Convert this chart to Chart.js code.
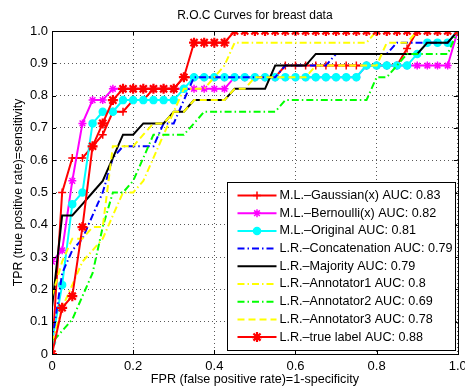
<!DOCTYPE html>
<html>
<head>
<meta charset="utf-8">
<script src="https://cdn.jsdelivr.net/npm/chart.js@4.4.1/dist/chart.umd.min.js"></script>
<style>
  html, body { margin: 0; padding: 0; background: #fff; }
  #wrap { width: 465px; height: 387px; }
</style>
</head>
<body>
<div id="wrap"><canvas id="roc-chart" width="465" height="387"></canvas></div>
<script>
// FPR steps shared by the curves that carry markers (40 negatives)
var fprGrid = [0, 0.025, 0.05, 0.075, 0.1, 0.125, 0.15, 0.175, 0.2, 0.225,
               0.25, 0.275, 0.3, 0.325, 0.35, 0.375, 0.4, 0.425, 0.45, 0.475,
               0.5, 0.525, 0.55, 0.575, 0.6, 0.625, 0.65, 0.675, 0.7, 0.725,
               0.75, 0.775, 0.8, 0.825, 0.85, 0.875, 0.9, 0.925, 0.95, 0.975, 1];

var gaussTpr = [0, 0.5, 0.607, 0.607, 0.643, 0.679, 0.75, 0.75, 0.786, 0.786,
                0.821, 0.821, 0.821, 0.857, 0.857, 0.857, 0.857, 0.857, 0.857, 0.857,
                0.857, 0.857, 0.857, 0.893, 0.893, 0.893, 0.893, 0.893, 0.893, 0.893,
                0.893, 0.893, 0.893, 0.893, 0.893, 0.946, 1, 1, 1, 1, 1];

var bernTpr = [0.286, 0.321, 0.536, 0.714, 0.786, 0.786, 0.821, 0.821, 0.821, 0.821,
               0.821, 0.821, 0.821, 0.821, 0.821, 0.821, 0.821, 0.821, 0.857, 0.857,
               0.857, 0.857, 0.857, 0.857, 0.857, 0.857, 0.857, 0.857, 0.857, 0.857,
               0.857, 0.893, 0.893, 0.893, 0.893, 0.893, 0.893, 0.893, 0.893, 0.893, 1];

var origTpr = [0.036, 0.214, 0.464, 0.5, 0.714, 0.75, 0.75, 0.786, 0.786, 0.786,
               0.786, 0.786, 0.786, 0.821, 0.857, 0.857, 0.857, 0.857, 0.857, 0.857,
               0.857, 0.857, 0.857, 0.857, 0.857, 0.857, 0.857, 0.857, 0.857, 0.857,
               0.857, 0.893, 0.893, 0.893, 0.893, 0.893, 0.929, 0.964, 0.964, 0.964, 1];

var trueTpr = [0, 0.143, 0.179, 0.393, 0.643, 0.714, 0.786, 0.821, 0.821, 0.821,
               0.821, 0.821, 0.821, 0.857, 0.964, 0.964, 0.964, 0.964, 1, 1,
               1, 1, 1, 1, 1, 1, 1, 1, 1, 1,
               1, 1, 1, 1, 1, 1, 1, 1, 1, 1, 1];

// line-only curves
var concatFpr = [0, 0.025, 0.05, 0.075, 0.1, 0.125, 0.15, 0.175, 0.25, 0.275, 0.3,
                 0.325, 0.35, 0.55, 0.575, 0.675, 0.7, 0.825, 0.85, 0.975, 1];
var concatTpr = [0.036, 0.25, 0.321, 0.357, 0.429, 0.5, 0.607, 0.643, 0.643, 0.714, 0.714,
                 0.786, 0.857, 0.857, 0.893, 0.893, 0.929, 0.929, 0.964, 0.964, 1];

var majFpr = [0, 0, 0.025, 0.05, 0.075, 0.1, 0.125, 0.15, 0.175, 0.2, 0.225, 0.275, 0.3,
              0.325, 0.35, 0.425, 0.45, 0.525, 0.55, 0.625, 0.65, 0.9, 0.925, 0.975, 1];
var majTpr = [0, 0.143, 0.429, 0.429, 0.464, 0.5, 0.536, 0.607, 0.679, 0.679, 0.714, 0.714, 0.75,
              0.75, 0.786, 0.786, 0.821, 0.821, 0.893, 0.893, 0.929, 0.929, 0.964, 0.964, 1];

var ann1Fpr = [0, 0.025, 0.05, 0.075, 0.1, 0.125, 0.15, 0.175, 0.2, 0.225, 0.25, 0.275,
               0.3, 0.325, 0.375, 0.4, 0.425, 0.45, 0.775, 0.8, 1];
var ann1Tpr = [0.036, 0.143, 0.214, 0.286, 0.321, 0.357, 0.429, 0.5, 0.5, 0.536, 0.607, 0.679,
               0.75, 0.821, 0.821, 0.857, 0.893, 0.964, 0.964, 1, 1];

var ann2Fpr = [0, 0, 0.05, 0.075, 0.1, 0.125, 0.15, 0.175, 0.2, 0.225, 0.25, 0.325,
               0.35, 0.375, 0.55, 0.575, 0.775, 0.8, 0.825, 0.85, 0.875, 0.975, 1];
var ann2Tpr = [0, 0.036, 0.107, 0.179, 0.25, 0.393, 0.5, 0.5, 0.536, 0.607, 0.679, 0.679,
               0.714, 0.75, 0.75, 0.786, 0.786, 0.857, 0.857, 0.893, 0.929, 0.929, 1];

var ann3Fpr = [0, 0.025, 0.05, 0.075, 0.1, 0.125, 0.15, 0.2, 0.225, 0.25, 0.275, 0.3, 0.325,
               0.35, 0.425, 0.45, 0.475, 0.5, 0.625, 0.65, 0.8, 0.825, 0.875, 0.9, 1];
var ann3Tpr = [0.179, 0.286, 0.357, 0.357, 0.393, 0.393, 0.643, 0.643, 0.679, 0.714, 0.714, 0.75, 0.75,
               0.786, 0.786, 0.821, 0.821, 0.857, 0.857, 0.893, 0.893, 0.964, 0.964, 1, 1];

var legendLabels = [
	'M.L.\u2013Gaussian(x) AUC: 0.83',
	'M.L.\u2013Bernoulli(x) AUC: 0.82',
	'M.L.\u2013Original AUC: 0.81',
	'L.R.\u2013Concatenation AUC: 0.79',
	'L.R.\u2013Majority AUC: 0.79',
	'L.R.\u2013Annotator1 AUC: 0.8',
	'L.R.\u2013Annotator2 AUC: 0.69',
	'L.R.\u2013Annotator3 AUC: 0.78',
	'L.R.\u2013true label AUC: 0.88'
];

var xTicks = [0, 0.2, 0.4, 0.6, 0.8, 1];
var yTicks = [0, 0.1, 0.2, 0.3, 0.4, 0.5, 0.6, 0.7, 0.8, 0.9, 1];

function pts(xs, ys) {
	var out = [];
	for (var i in xs) {
		out.push({ x: xs[i], y: ys[i] });
	}
	return out;
}

var DASH = [7, 4];
var DASHDOT = [7, 3, 1.5, 3];

var datasets = [
	{ data: pts(fprGrid, gaussTpr), borderColor: '#ff0000', pointStyle: 'cross', pointRadius: 4, pointBorderWidth: 1.5 },
	{ data: pts(fprGrid, bernTpr), borderColor: '#ff00ff', pointStyle: 'star', pointRadius: 4, pointBorderWidth: 1.5 },
	{ data: pts(fprGrid, origTpr), borderColor: '#00ffff', pointStyle: 'circle', pointRadius: 3.5, pointBorderWidth: 1.5 },
	{ data: pts(concatFpr, concatTpr), borderColor: '#0000ff', borderDash: DASHDOT, pointRadius: 0 },
	{ data: pts(majFpr, majTpr), borderColor: '#000000', pointRadius: 0 },
	{ data: pts(ann1Fpr, ann1Tpr), borderColor: '#ffff00', borderDash: DASHDOT, pointRadius: 0 },
	{ data: pts(ann2Fpr, ann2Tpr), borderColor: '#00ff00', borderDash: DASHDOT, pointRadius: 0 },
	{ data: pts(ann3Fpr, ann3Tpr), borderColor: '#ffff00', borderDash: DASH, pointRadius: 0 },
	{ data: pts(fprGrid, trueTpr), borderColor: '#ff0000', pointStyle: 'star', pointRadius: 5, pointBorderWidth: 2.2 }
];

for (var i in datasets) {
	datasets[i].label = legendLabels[i];
	datasets[i].borderWidth = 2;
	datasets[i].fill = false;
	datasets[i].tension = 0;
	datasets[i].pointHoverRadius = 0;
	datasets[i].pointBackgroundColor = datasets[i].borderColor;
	datasets[i].order = datasets.length - i; // later curves drawn on top, like matlab
}

// frame + inward tick marks
var framePlugin = {
	id: 'frame',
	afterDatasetsDraw: function(chart) {
		var ctx = chart.ctx, a = chart.chartArea;
		var sx = chart.scales.x, sy = chart.scales.y;
		ctx.save();
		ctx.strokeStyle = '#000';
		ctx.lineWidth = 1;
		ctx.setLineDash([]);
		ctx.strokeRect(Math.round(a.left) + 0.5, Math.round(a.top) + 0.5,
		               Math.round(a.right - a.left), Math.round(a.bottom - a.top));
		ctx.beginPath();
		xTicks.forEach(function(v) {
			var px = Math.round(sx.getPixelForValue(v)) + 0.5;
			ctx.moveTo(px, a.bottom); ctx.lineTo(px, a.bottom - 4);
			ctx.moveTo(px, a.top); ctx.lineTo(px, a.top + 4);
		});
		yTicks.forEach(function(v) {
			var py = Math.round(sy.getPixelForValue(v)) + 0.5;
			ctx.moveTo(a.left, py); ctx.lineTo(a.left + 4, py);
			ctx.moveTo(a.right, py); ctx.lineTo(a.right - 4, py);
		});
		ctx.stroke();
		ctx.restore();
	}
};

// boxed legend inside the plot, lower right
var legendPlugin = {
	id: 'boxLegend',
	afterDraw: function(chart) {
		var ctx = chart.ctx, a = chart.chartArea;
		var x0 = Math.round(a.right) - 230.5, y0 = 182.5, w = 228, h = 168;
		ctx.save();
		ctx.fillStyle = '#fff';
		ctx.fillRect(x0, y0, w, h);
		ctx.strokeStyle = '#000';
		ctx.lineWidth = 1;
		ctx.strokeRect(x0, y0, w, h);
		ctx.font = '12.6px "Liberation Sans", Arial, sans-serif';
		ctx.textBaseline = 'middle';
		chart.data.datasets.forEach(function(ds, i) {
			var y = y0 + 13 + i * 17.7;
			ctx.strokeStyle = ds.borderColor;
			ctx.lineWidth = ds.borderWidth;
			ctx.setLineDash(ds.borderDash || []);
			ctx.beginPath();
			ctx.moveTo(x0 + 10, y);
			ctx.lineTo(x0 + 49, y);
			ctx.stroke();
			ctx.setLineDash([]);
			if (ds.pointRadius > 0) {
				ctx.fillStyle = ds.borderColor;
				ctx.strokeStyle = ds.borderColor;
				ctx.lineWidth = ds.pointBorderWidth;
				Chart.helpers.drawPoint(ctx, {
					pointStyle: ds.pointStyle,
					radius: ds.pointRadius,
					borderWidth: ds.pointBorderWidth,
					rotation: 0
				}, x0 + 29.5, y);
			}
			ctx.fillStyle = '#000';
			ctx.fillText(ds.label, x0 + 52, y);
		});
		ctx.restore();
	}
};

// keep the plot box where matlab put it: no extra room for end tick labels
function noEdgePadding(s) {
	s.paddingLeft = 0;
	s.paddingRight = 0;
	s.paddingTop = 0;
	s.paddingBottom = 0;
}

Chart.defaults.font.family = '"Liberation Sans", Arial, Helvetica, sans-serif';
Chart.defaults.color = '#000';

new Chart(document.getElementById('roc-chart'), {
	type: 'line',
	data: { datasets: datasets },
	options: {
		responsive: false,
		animation: false,
		devicePixelRatio: 1,
		layout: { padding: { right: 1.5 } },
		plugins: {
			legend: { display: false },
			tooltip: { enabled: false },
			title: {
				display: true,
				fullSize: false,
				text: 'R.O.C Curves for breast data',
				font: { size: 12, weight: 'normal' },
				padding: { top: 8, bottom: 8.6 }
			}
		},
		scales: {
			x: {
				type: 'linear',
				min: 0,
				max: 1,
				afterBuildTicks: function(s) { s.ticks = xTicks.map(function(v) { return { value: v }; }); },
				afterFit: function(s) { s.height = 33; noEdgePadding(s); },
				ticks: { font: { size: 13 }, padding: 5, maxRotation: 0, autoSkip: false },
				grid: { color: 'rgba(0,0,0,0.65)', lineWidth: 1, drawTicks: false },
				border: { display: false, dash: [1, 3] },
				title: { display: true, text: 'FPR (false positive rate)=1-specificity', font: { size: 12.6 }, padding: { top: 2, bottom: 0 } }
			},
			y: {
				type: 'linear',
				min: 0,
				max: 1,
				afterBuildTicks: function(s) { s.ticks = yTicks.map(function(v) { return { value: v }; }); },
				afterFit: function(s) { s.width = 52; noEdgePadding(s); },
				ticks: { font: { size: 13 }, padding: 4, autoSkip: false },
				grid: { color: 'rgba(0,0,0,0.65)', lineWidth: 1, drawTicks: false },
				border: { display: false, dash: [1, 3] },
				title: { display: true, text: 'TPR (true positive rate)=sensitivity', font: { size: 12.3 }, padding: { top: 11, bottom: 0 } }
			}
		}
	},
	plugins: [framePlugin, legendPlugin]
});
</script>
</body>
</html>
